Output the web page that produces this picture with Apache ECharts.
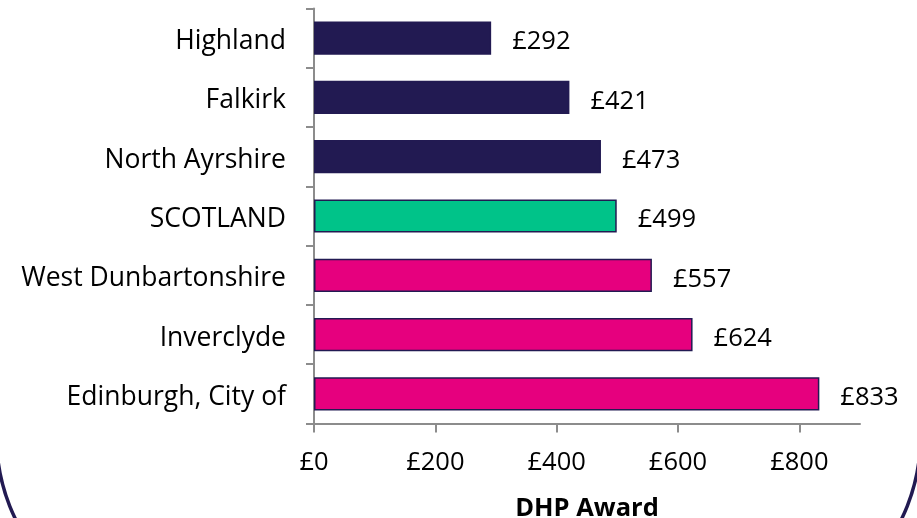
<!DOCTYPE html>
<html>
<head>
<meta charset="utf-8">
<script src="https://cdn.jsdelivr.net/npm/echarts@6/dist/echarts.min.js"></script>
<style>
  html, body { margin: 0; padding: 0; background: #ffffff; }
  #chart { width: 917px; height: 518px; }
</style>
</head>
<body>
<div id="chart"></div>
<script>
// Average Discretionary Housing Payment award by area
const areas = ['Highland', 'Falkirk', 'North Ayrshire', 'SCOTLAND', 'West Dunbartonshire', 'Inverclyde', 'Edinburgh, City of'];
const awards = [292, 421, 473, 499, 557, 624, 833];
const groups = ['low', 'low', 'low', 'national', 'high', 'high', 'high'];
const xTicks = [0, 200, 400, 600, 800];

const fillByGroup = { low: '#221a52', national: '#00c389', high: '#e6007e' };
const FONT = '"Open Sans", "DejaVu Sans", sans-serif';
const axisGrey = '#8c8c8c';

const chart = echarts.init(document.getElementById('chart'), null, { renderer: 'canvas' });

chart.setOption({
  animation: false,
  backgroundColor: '#ffffff',
  grid: {
    left: 314, top: 8.5, width: 546, height: 415,
    containLabel: false,
    outerBoundsMode: 'none'
  },
  xAxis: {
    type: 'value',
    min: 0,
    max: 900,
    interval: 200,
    name: 'DHP Award',
    nameLocation: 'middle',
    nameGap: 72,
    nameTextStyle: { fontFamily: FONT, fontSize: 25.5, fontWeight: 'bold', color: '#000' },
    axisLine: { show: true, lineStyle: { color: axisGrey, width: 2 } },
    axisTick: { show: true, length: 9, lineStyle: { color: axisGrey, width: 2 }, customValues: xTicks },
    axisLabel: {
      customValues: xTicks,
      margin: 26,
      fontFamily: FONT, fontSize: 25.5, color: '#000',
      formatter: v => '£' + v
    },
    splitLine: { show: false }
  },
  yAxis: {
    type: 'category',
    data: areas,
    inverse: true,
    axisLine: { show: true, lineStyle: { color: axisGrey, width: 2 } },
    axisTick: { show: true, length: 8, lineStyle: { color: axisGrey, width: 2 } },
    axisLabel: {
      margin: 28,
      formatter: v => '{name|' + v + '}',
      rich: {
        name: { fontFamily: FONT, fontSize: 26.5, color: '#000', padding: [7, 0, 0, 0] }
      }
    }
  },
  series: [{
    type: 'bar',
    barWidth: '56%',
    data: awards.map((v, i) => ({
      value: v,
      itemStyle: { color: fillByGroup[groups[i]], borderColor: '#221a52', borderWidth: 1.5 }
    })),
    label: {
      show: true,
      position: 'right',
      distance: 21,
      offset: [0, 4],
      fontFamily: FONT, fontSize: 25.5, color: '#000',
      formatter: p => '£' + p.value
    }
  }],
  graphic: [{
    // outer rounded frame; only its lower corners fall inside the canvas
    type: 'rect',
    silent: true,
    shape: { x: -3.5, y: -300, width: 924, height: 924, r: 187 },
    style: { fill: 'none', stroke: '#221a52', lineWidth: 3.5 }
  }]
});
</script>
</body>
</html>
